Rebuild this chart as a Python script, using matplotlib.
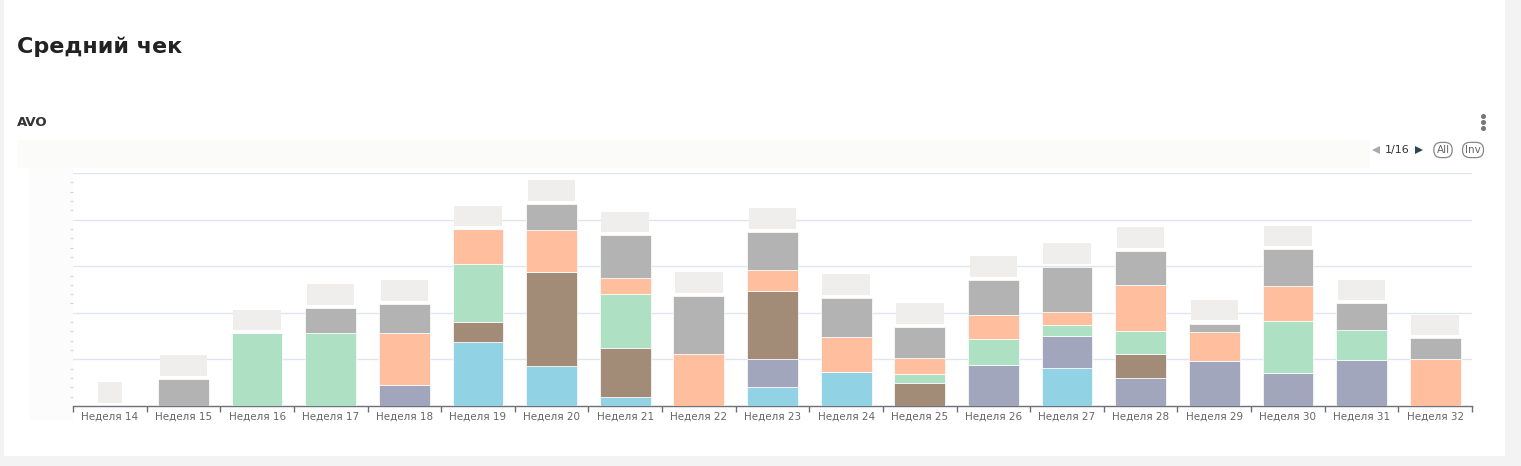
import matplotlib
matplotlib.use("Agg")
import matplotlib.pyplot as plt
import numpy as np
from matplotlib.patches import Rectangle
from matplotlib.lines import Line2D

plt.rcParams['font.family'] = ['DejaVu Sans']

weeks = ["Неделя %d" % w for w in range(14, 33)]
# stacked segments, bottom to top
blue  = [0, 0, 0, 0, 0, 138, 85, 20, 0, 41, 72, 0, 0, 82, 0, 0, 0, 0, 0]
slate = [0, 0, 0, 0, 45, 0, 0, 0, 0, 60, 0, 0, 88, 68, 61, 97, 71, 98, 0]
brown = [0, 0, 0, 0, 0, 42, 202, 104, 0, 145, 0, 50, 0, 0, 51, 0, 0, 0, 0]
green = [0, 0, 156, 156, 0, 124, 0, 116, 0, 0, 0, 19, 55, 24, 50, 0, 112, 65, 0]
peach = [0, 0, 0, 0, 111, 75, 90, 35, 112, 46, 75, 35, 53, 28, 97, 61, 75, 0, 101]
gray  = [0, 58, 0, 54, 63, 0, 57, 91, 124, 81, 85, 66, 74, 96, 74, 19, 78, 57, 44]

series = [
    (blue,  "#91d2e4"),
    (slate, "#a2a6bd"),
    (brown, "#a38c77"),
    (green, "#aee1c4"),
    (peach, "#ffbf9f"),
    (gray,  "#b3b3b3"),
]

W, H = 1521, 466
fig = plt.figure(figsize=(W / 100, H / 100), dpi=100)
fig.patch.set_facecolor("white")

def fx(px):
    return px / W

def fy(py):
    return 1 - py / H

# page frame
fig.add_artist(Rectangle((fx(1505), 0), fx(W - 1505), 1, transform=fig.transFigure,
                         facecolor="#f3f3f3", edgecolor="none", zorder=0))
fig.add_artist(Rectangle((0, 0), 1, fy(456), transform=fig.transFigure,
                         facecolor="#f3f3f3", edgecolor="none", zorder=0))
fig.add_artist(Rectangle((0, 0), fx(4), 1, transform=fig.transFigure,
                         facecolor="#f3f3f3", edgecolor="none", zorder=0))
# blurred legend band and blurred y-label block
fig.add_artist(Rectangle((fx(17), fy(168)), fx(1353), (168 - 140) / H, transform=fig.transFigure,
                         facecolor="#fbfbfa", edgecolor="none", zorder=0))
fig.add_artist(Rectangle((fx(30), fy(420)), fx(43), (420 - 168) / H, transform=fig.transFigure,
                         facecolor="#fcfcfc", edgecolor="none", zorder=0))

fig.text(fx(17), fy(47), "Средний чек", fontsize=16, fontweight="bold",
         color="#222222", va="center", ha="left")
fig.text(fx(17), fy(122), "AVO", fontsize=9.5, fontweight="bold",
         color="#333333", va="center", ha="left")

# three dots menu
fig.add_artist(Line2D([fx(1483)] * 3, [fy(116), fy(122), fy(128)], transform=fig.transFigure,
                      linestyle="none", marker="o", markersize=2.6, color="#777777"))

# pagination
fig.add_artist(Line2D([fx(1376)], [fy(150)], transform=fig.transFigure, linestyle="none",
                      marker="<", markersize=6, color="#aaaaaa", markeredgewidth=0))
fig.text(fx(1397), fy(150), "1/16", fontsize=8, color="#333333", ha="center", va="center")
fig.add_artist(Line2D([fx(1419)], [fy(150)], transform=fig.transFigure, linestyle="none",
                      marker=">", markersize=6, color="#2f4554", markeredgewidth=0))
for cx, t in [(1443, "All"), (1473, "Inv")]:
    fig.text(fx(cx), fy(150), t, fontsize=7.5, color="#666666", ha="center", va="center",
             bbox=dict(boxstyle="round,pad=0.25,rounding_size=0.7", facecolor="white",
                       edgecolor="#888888", linewidth=0.9))

ax = fig.add_axes([fx(73), fy(406), fx(1472 - 73), (406 - 173) / H])
ax.set_facecolor("white")
x = np.arange(len(weeks))
bottom = np.zeros(len(weeks))
for vals, col in series:
    v = np.array(vals, dtype=float)
    ax.bar(x, v, width=0.69, bottom=bottom, color=col, edgecolor="white",
           linewidth=0.5, zorder=3)
    bottom += v

# redacted value labels above bars
for i, tot in enumerate(bottom):
    ax.annotate("\u2007" * (2 if tot == 0 else 5), (x[i], tot), xytext=(0, 5),
                textcoords="offset points", ha="center", va="bottom", fontsize=9,
                color="#f0eeec",
                bbox=dict(boxstyle="square,pad=0.3", facecolor="#f0eeec", edgecolor="none"),
                zorder=4)

ax.set_xlim(-0.5, len(weeks) - 0.5)
ax.set_ylim(0, 500)
ax.set_xticks(x)
ax.set_xticklabels(weeks, fontsize=7.5, color="#666666")
ax.set_xticks(np.arange(-0.5, len(weeks), 1.0), minor=True)
ax.tick_params(axis="x", which="major", length=0, pad=4)
ax.tick_params(axis="x", which="minor", length=4, color="#6e7079", width=1)
ax.set_yticks([100, 200, 300, 400, 500])
ax.set_yticklabels([])
ax.set_yticks(np.arange(20, 500, 20), minor=True)
ax.tick_params(axis="y", which="major", length=0)
ax.tick_params(axis="y", which="minor", length=2, color="#d6d6d6", width=0.8)
ax.grid(axis="y", color="#e0e6f1", linewidth=1, zorder=0)
for s in ["top", "right", "left"]:
    ax.spines[s].set_visible(False)
ax.spines["bottom"].set_color("#6e7079")
ax.spines["bottom"].set_linewidth(1)

fig.savefig("out.png", dpi=100, facecolor=fig.get_facecolor())
